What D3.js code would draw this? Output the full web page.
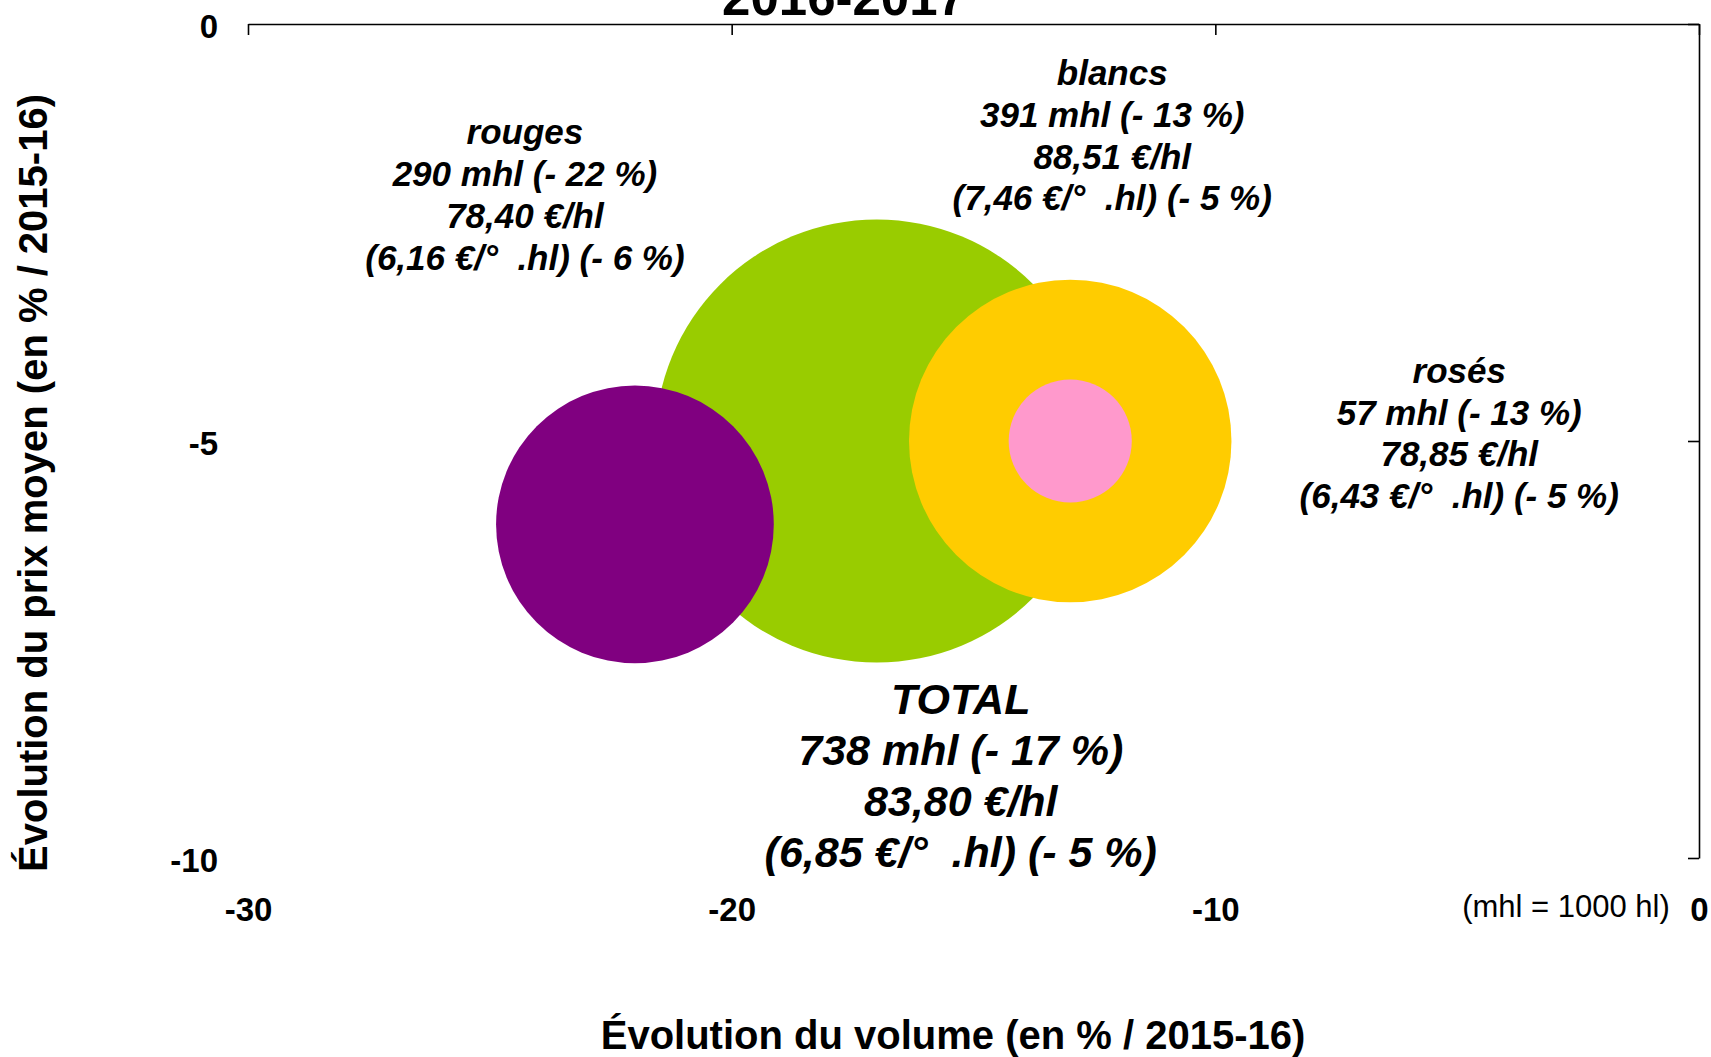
<!DOCTYPE html>
<html lang="fr">
<head>
<meta charset="UTF-8">
<title>Évolution volume / prix 2016-2017</title>
<script src="https://d3js.org/d3.v7.min.js"></script>
<style>
  body { margin: 0; background: #fff; }
  svg text { font-family: "Liberation Sans", Arial, sans-serif; font-weight: bold; fill: #000; }
</style>
</head>
<body>
<div id="chart"></div>
<script>
// données 2016-2017 (ordre = ordre de tracé)
var categories   = ["TOTAL", "rouges", "blancs", "rosés"];
var volumes      = [738, 290, 391, 57];          // mhl
var volumeChange = [-17, -22, -13, -13];         // % / 2015-16
var prices       = [83.80, 78.40, 88.51, 78.85]; // €/hl
var degreePrices = [6.85, 6.16, 7.46, 6.43];     // €/°.hl
var priceChange  = [-5, -6, -5, -5];             // % / 2015-16
var colors       = ["#99cc00", "#800080", "#ffcc00", "#ff99cc"];

var xTicks = [-30, -20, -10, 0];
var yTicks = [0, -5, -10];

var width = 1711, height = 1057;
var plotLeft = 248, plotRight = 1699, plotTop = 24, plotBottom = 858;

var svg = d3.select("#chart").append("svg")
    .attr("width", width)
    .attr("height", height);

var x = d3.scaleLinear().domain([-30, 0]).range([plotLeft, plotRight]);
var y = d3.scaleLinear().domain([0, -10]).range([plotTop, plotBottom]);
var r = d3.scaleSqrt().domain([0, 738]).range([0, 221.5]);

var fr = d3.formatLocale({decimal: ",", thousands: " ", grouping: [3], currency: ["", " €"], minus: "-"});
var f2 = fr.format(".2f");
var fInt = fr.format("d");

// axe du haut (y = 0) et axe de droite (x = 0), ticks vers l'intérieur
var topAxis = svg.append("g")
    .attr("transform", "translate(0," + plotTop + ")")
    .call(d3.axisBottom(x).tickValues(xTicks).tickSize(11).tickSizeOuter(0).tickFormat(""));
var rightAxis = svg.append("g")
    .attr("transform", "translate(" + plotRight + ",0)")
    .call(d3.axisLeft(y).tickValues(yTicks).tickSize(11).tickSizeOuter(0).tickFormat(""));
[topAxis, rightAxis].forEach(function(g) {
    g.selectAll("path, line").attr("stroke", "#000").attr("stroke-width", 1.6);
});

// libellés des graduations
var yLabels = svg.append("g")
    .attr("transform", "translate(" + plotLeft + ",3)")
    .call(d3.axisLeft(y).tickValues(yTicks).tickSize(0).tickPadding(30).tickFormat(fInt));
var xLabels = svg.append("g")
    .attr("transform", "translate(0,898)")
    .call(d3.axisBottom(x).tickValues(xTicks).tickSize(0).tickPadding(0).tickFormat(fInt));
[yLabels, xLabels].forEach(function(g) {
    g.select(".domain").remove();
    g.selectAll("text")
        .attr("font-family", "Liberation Sans, Arial, sans-serif")
        .attr("font-size", 33)
        .attr("font-weight", "bold")
        .attr("fill", "#000");
});

// bulles
var rows = categories.map(function(c, i) {
    return {name: c, vol: volumes[i], dv: volumeChange[i], price: prices[i],
            deg: degreePrices[i], dp: priceChange[i], color: colors[i]};
});

svg.selectAll("circle.bubble")
    .data(rows)
    .enter().append("circle")
    .attr("class", "bubble")
    .attr("cx", function(d) { return x(d.dv); })
    .attr("cy", function(d) { return y(d.dp); })
    .attr("r", function(d) { return r(d.vol); })
    .attr("fill", function(d) { return d.color; });

// étiquettes (décalages en pixels depuis le centre de la bulle)
var labelLayout = {
    "TOTAL":  {dx: 84,   dy: 273,  size: 43, lh: 51},
    "rouges": {dx: -110, dy: -380, size: 35, lh: 41.8},
    "blancs": {dx: 42,   dy: -356, size: 35, lh: 41.8},
    "rosés":  {dx: 389,  dy: -58,  size: 35, lh: 41.5}
};

rows.forEach(function(d) {
    var L = labelLayout[d.name];
    var cx = x(d.dv) + L.dx, cy = y(d.dp) + L.dy;
    var lines = [
        d.name,
        d.vol + " mhl (- " + Math.abs(d.dv) + " %)",
        f2(d.price) + " €/hl",
        "(" + f2(d.deg) + " €/°  .hl) (- " + Math.abs(d.dp) + " %)"
    ];
    var t = svg.append("text")
        .attr("text-anchor", "middle")
        .attr("font-size", L.size)
        .attr("font-style", "italic")
        .style("white-space", "pre");
    t.selectAll("tspan")
        .data(lines)
        .enter().append("tspan")
        .attr("x", cx)
        .attr("y", function(s, i) { return cy + i * L.lh; })
        .text(function(s) { return s; });
});

// titre (coupé en haut) et titres des axes
svg.append("text")
    .attr("x", 844).attr("y", 15)
    .attr("text-anchor", "middle")
    .attr("font-size", 51)
    .text("2016-2017");

svg.append("text")
    .attr("x", 953).attr("y", 1049)
    .attr("text-anchor", "middle")
    .attr("font-size", 40)
    .text("Évolution du volume (en % / 2015-16)");

svg.append("text")
    .attr("transform", "translate(47,483) rotate(-90)")
    .attr("text-anchor", "middle")
    .attr("font-size", 40)
    .text("Évolution du prix moyen (en % / 2015-16)");

svg.append("text")
    .attr("x", 1566).attr("y", 917)
    .attr("text-anchor", "middle")
    .attr("font-size", 31)
    .style("font-weight", "normal")
    .text("(mhl = 1000 hl)");
</script>
</body>
</html>
